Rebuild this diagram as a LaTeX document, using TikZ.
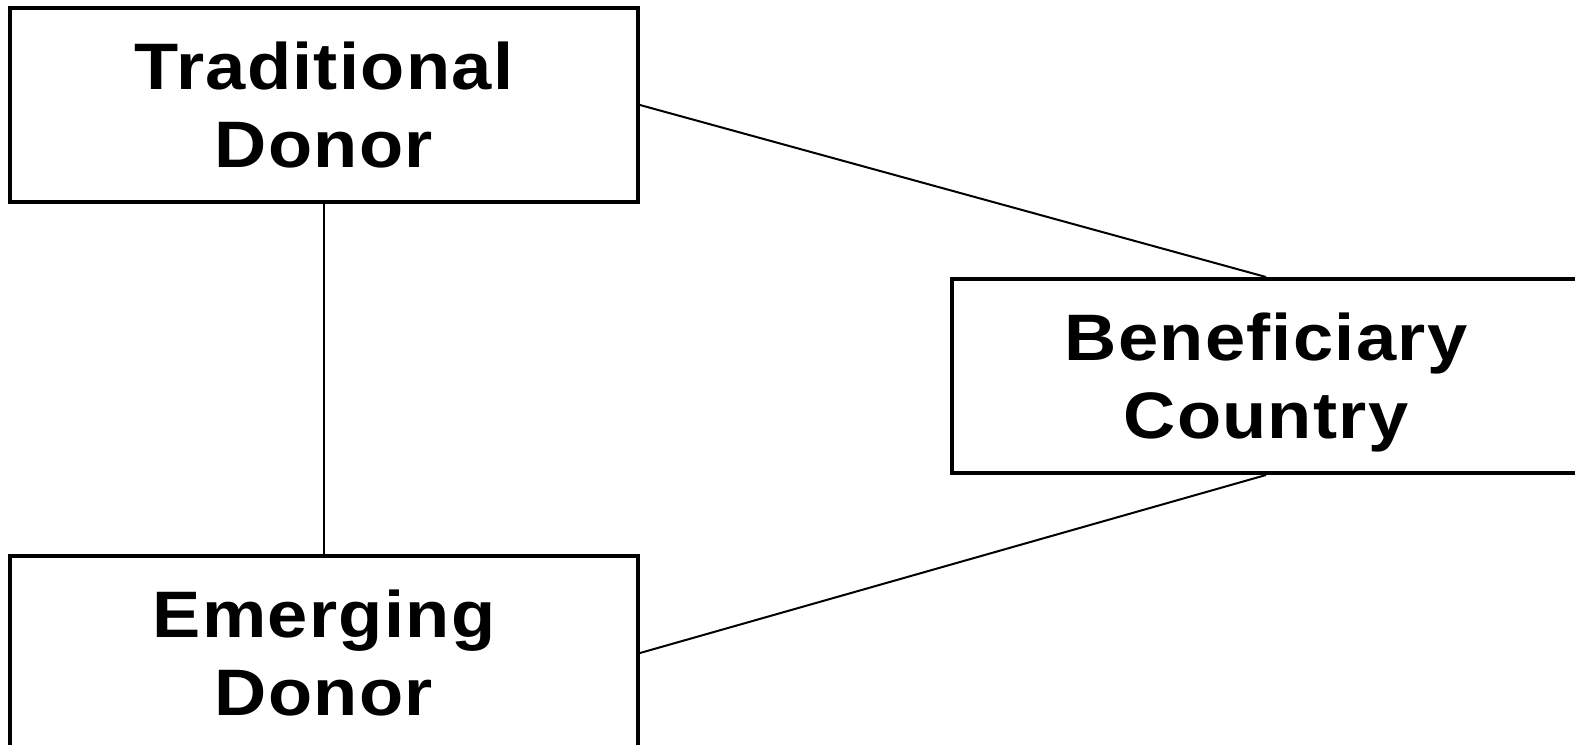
\documentclass[tikz,border=0pt]{standalone}
\usepackage{fontspec}
\setmainfont{Liberation Sans}[LetterSpace=2,FakeStretch=1.1]
\usepackage{tikz}
\usetikzlibrary{positioning}

\begin{document}
\begin{tikzpicture}[
      font=\fontsize{18.7}{22.2}\selectfont\bfseries,
      actor/.style={draw, line width=0.4mm, minimum width=6.28cm,
                    minimum height=1.94cm, align=center, inner sep=0pt,
                    text depth=0pt},
      link/.style={line width=0.2mm},
      node distance=3.5cm
    ]
    \useasboundingbox (0,0) rectangle (15.75,-7.44);
    % donors
    \node[actor] (trad) at (3.24,-1.05) {Traditional\\Donor};
    \node[actor, below=of trad] (emrg) {Emerging\\Donor};

    % recipient
    \node[actor] (bene) at (12.66,-3.76) {Beneficiary\\Country};

    \draw[link] (trad.south) -- (emrg.north);
    \draw[link] (trad.east) -- (bene.north);
    \draw[link] (emrg.east) -- (bene.south);
  \end{tikzpicture}
\end{document}
